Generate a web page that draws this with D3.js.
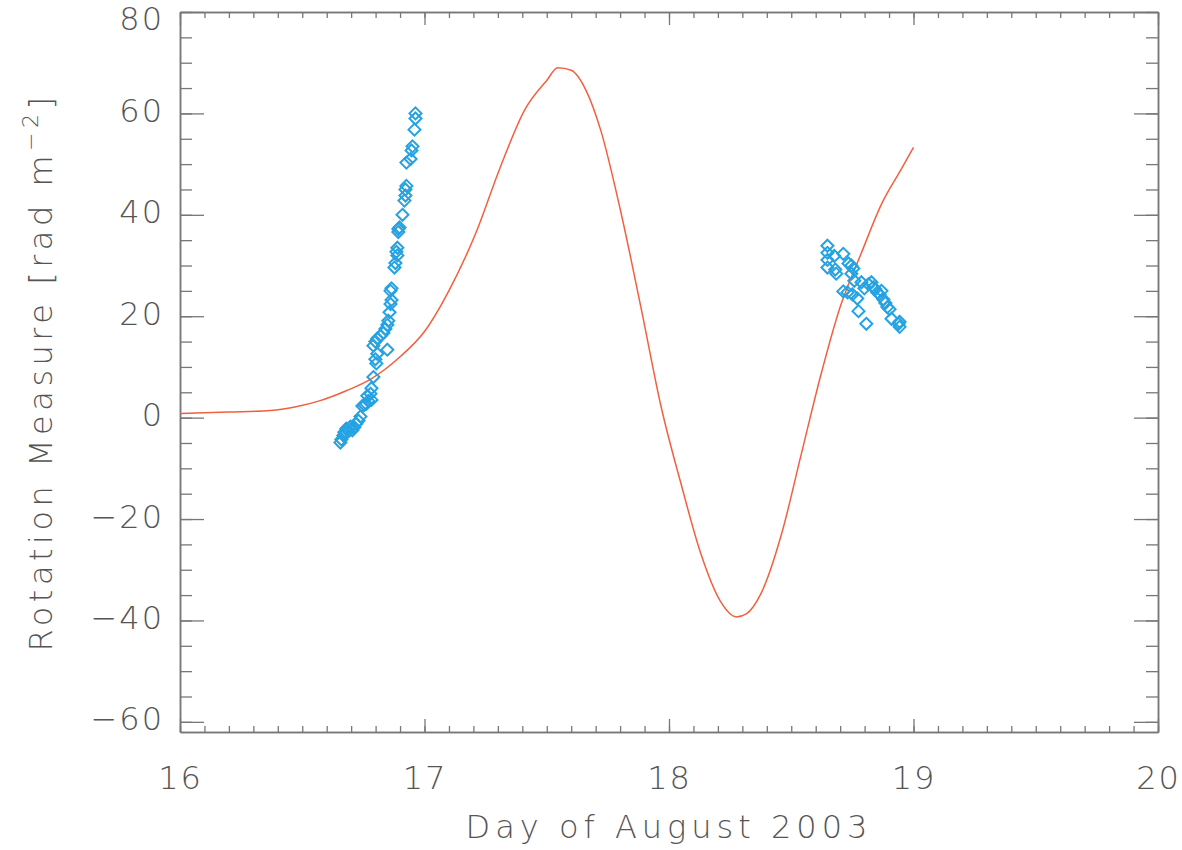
<!DOCTYPE html>
<html>
<head>
<meta charset="utf-8">
<script src="https://cdn.jsdelivr.net/npm/d3@7"></script>
<style>
  body { margin: 0; background: #fff; }
  svg text { font-family: "DejaVu Sans", sans-serif; font-weight: 200; fill: #555; }
</style>
</head>
<body>
<svg id="chart" width="1182" height="850"></svg>
<script>
// observed rotation measure (day, RM)
const obsDay = [
  16.963, 16.963, 16.959, 16.951, 16.947, 16.943, 16.926, 16.926, 16.922, 16.922,
  16.918, 16.910, 16.898, 16.893, 16.893, 16.889, 16.885, 16.889, 16.881, 16.877,
  16.865, 16.861, 16.865, 16.861, 16.857, 16.852, 16.848, 16.840, 16.832, 16.820,
  16.807, 16.799, 16.791, 16.848, 16.807, 16.799, 16.803, 16.791, 16.783, 16.779,
  16.766, 16.770, 16.762, 16.754, 16.746, 16.783, 16.738, 16.730, 16.721, 16.713,
  16.705, 16.697, 16.689, 16.680, 16.672, 16.668, 16.660, 16.656,
  18.648, 18.648, 18.648, 18.648, 18.676, 18.680, 18.684, 18.713, 18.734, 18.746,
  18.754, 18.746, 18.758, 18.713, 18.730, 18.750, 18.770, 18.775, 18.807, 18.787,
  18.799, 18.816, 18.828, 18.836, 18.844, 18.852, 18.861, 18.869, 18.877, 18.885,
  18.893, 18.902, 18.910, 18.939, 18.943, 18.943
];
const obsRM = [
  60.0, 59.0, 56.8, 53.5, 52.7, 51.0, 50.3, 45.7, 45.0, 43.8,
  42.8, 40.0, 37.5, 36.6, 37.2, 33.5, 32.7, 32.0, 30.5, 29.6,
  25.5, 25.0, 23.2, 22.4, 20.8, 19.1, 18.3, 17.5, 16.7, 16.1,
  15.6, 15.0, 14.2, 13.4, 12.6, 11.5, 10.7, 8.0, 5.8, 4.7,
  4.3, 3.3, 2.7, 2.5, 2.3, 3.5, 0.2, -0.6, -1.2, -1.9,
  -2.5, -1.8, -2.7, -2.2, -2.9, -3.5, -4.3, -4.9,
  33.9, 32.5, 31.1, 29.6, 31.9, 29.2, 28.4, 32.3, 30.4, 30.0,
  29.4, 28.4, 27.0, 24.9, 24.7, 24.3, 23.5, 21.0, 18.5, 26.7,
  25.5, 26.3, 26.7, 25.7, 25.3, 24.7, 24.3, 25.0, 23.3, 22.6,
  21.8, 21.4, 19.5, 18.5, 17.9, 18.9
];

// model curve (day, RM)
const modelDay = [
  16.00, 16.20, 16.37, 16.47, 16.57, 16.68, 16.78, 16.90, 17.00, 17.107,
  17.21, 17.31, 17.41, 17.50, 17.545, 17.60, 17.66, 17.72, 17.80, 17.885,
  17.967, 18.05, 18.13, 18.21, 18.275, 18.316, 18.377, 18.46, 18.54, 18.62,
  18.70, 18.787, 18.87, 18.95, 19.00
];
const modelRM = [
  0.8, 1.1, 1.4, 2.1, 3.3, 5.3, 7.6, 12.0, 17.0, 25.7,
  36.4, 49.4, 60.7, 66.5, 69.0, 68.5, 64.6, 56.8, 41.2, 21.8,
  2.3, -13.2, -26.8, -36.2, -39.3, -38.7, -34.6, -23.0, -7.4, 8.2,
  21.8, 32.5, 42.2, 49.0, 53.3
];

const xTicks = [16, 17, 18, 19, 20];
const yTicks = [-60, -40, -20, 0, 20, 40, 60, 80];

const svg = d3.select("#chart");
const plotL = 180, plotR = 1158, plotT = 12, plotB = 732;

const x = d3.scaleLinear().domain([16, 20]).range([plotL, plotR]);
const y = d3.scaleLinear().domain([-62, 80]).range([plotB, plotT]);

const axisColor = "#777";
const xMinor = d3.range(16, 20.001, 0.1);
const yMinor = d3.range(-60, 80.001, 5);

function styleAxis(g) {
  g.select(".domain").attr("stroke", axisColor).attr("stroke-width", 1.5);
  g.selectAll(".tick line").attr("stroke", axisColor).attr("stroke-width", 1.3);
  g.selectAll(".tick text").attr("font-size", 32).attr("fill", "#555");
}

// bottom axis
svg.append("g").attr("transform", `translate(0,${plotB})`)
  .call(d3.axisBottom(x).tickValues(xMinor).tickSizeInner(-6).tickSizeOuter(0).tickFormat(""))
  .call(styleAxis);
svg.append("g").attr("transform", `translate(0,${plotB})`)
  .call(d3.axisBottom(x).tickValues(xTicks).tickSizeInner(-13).tickSizeOuter(0)
    .tickPadding(32).tickFormat(d3.format("d")))
  .call(styleAxis)
  .call(g => g.selectAll(".tick text").attr("dy", "0.78em").attr("letter-spacing", 2));

// top axis
svg.append("g").attr("transform", `translate(0,${plotT})`)
  .call(d3.axisTop(x).tickValues(xMinor).tickSizeInner(-6).tickSizeOuter(0).tickFormat(""))
  .call(styleAxis);
svg.append("g").attr("transform", `translate(0,${plotT})`)
  .call(d3.axisTop(x).tickValues(xTicks).tickSizeInner(-13).tickSizeOuter(0).tickFormat(""))
  .call(styleAxis);

// left axis
svg.append("g").attr("transform", `translate(${plotL},0)`)
  .call(d3.axisLeft(y).tickValues(yMinor).tickSizeInner(-12).tickSizeOuter(0).tickFormat(""))
  .call(styleAxis);
svg.append("g").attr("transform", `translate(${plotL},0)`)
  .call(d3.axisLeft(y).tickValues(yTicks).tickSizeInner(-24).tickSizeOuter(0)
    .tickPadding(16).tickFormat(d => d < 0 ? "\u2212" + Math.abs(d) : d))
  .call(styleAxis)
  .call(g => g.selectAll(".tick text").attr("letter-spacing", 2)
    .attr("dy", d => d === 80 ? "0.55em" : "0.25em"));

// right axis
svg.append("g").attr("transform", `translate(${plotR},0)`)
  .call(d3.axisRight(y).tickValues(yMinor).tickSizeInner(-12).tickSizeOuter(0).tickFormat(""))
  .call(styleAxis);
svg.append("g").attr("transform", `translate(${plotR},0)`)
  .call(d3.axisRight(y).tickValues(yTicks).tickSizeInner(-24).tickSizeOuter(0).tickFormat(""))
  .call(styleAxis);

// model curve
const line = d3.line().x((d, i) => x(modelDay[i])).y(d => y(d)).curve(d3.curveMonotoneX);
svg.append("path")
  .datum(modelRM)
  .attr("d", line)
  .attr("fill", "none")
  .attr("stroke", "#f2603f")
  .attr("stroke-width", 1.5);

// observed points as open diamonds
const s = 6;
svg.append("g").selectAll("path")
  .data(obsRM)
  .join("path")
  .attr("transform", (d, i) => `translate(${x(obsDay[i])},${y(d)})`)
  .attr("d", `M0,${-s}L${s},0L0,${s}L${-s},0Z`)
  .attr("fill", "none")
  .attr("stroke", "#25a2e2")
  .attr("stroke-width", 2);

// axis titles
svg.append("text")
  .attr("x", (plotL + plotR) / 2)
  .attr("y", 838)
  .attr("text-anchor", "middle")
  .attr("font-size", 32)
  .attr("letter-spacing", 5)
  .text("Day of August 2003");

const yt = svg.append("text")
  .attr("transform", `translate(52,${(plotT + plotB) / 2}) rotate(-90)`)
  .attr("text-anchor", "middle")
  .attr("font-size", 32)
  .attr("letter-spacing", 4.5);
yt.append("tspan").text("Rotation Measure [rad m");
yt.append("tspan").attr("dy", -14).attr("font-size", 22).text("\u22122");
yt.append("tspan").attr("dy", 14).text("]");
</script>
</body>
</html>
